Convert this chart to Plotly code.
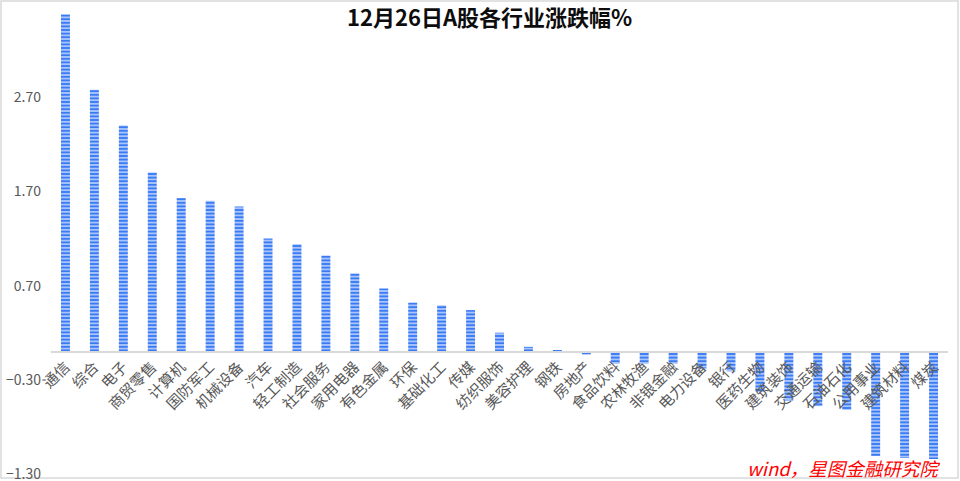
import plotly.graph_objects as go

categories = ["通信", "综合", "电子", "商贸零售", "计算机", "国防军工", "机械设备", "汽车",
              "轻工制造", "社会服务", "家用电器", "有色金属", "环保", "基础化工", "传媒",
              "纺织服饰", "美容护理", "钢铁", "房地产", "食品饮料", "农林牧渔", "非银金融",
              "电力设备", "银行", "医药生物", "建筑装饰", "交通运输", "石油石化", "公用事业",
              "建筑材料", "煤炭"]
values = [3.58, 2.78, 2.40, 1.90, 1.63, 1.60, 1.54, 1.20,
          1.14, 1.02, 0.83, 0.67, 0.52, 0.49, 0.44,
          0.20, 0.05, 0.015, -0.03, -0.13, -0.13, -0.13,
          -0.18, -0.21, -0.43, -0.52, -0.58, -0.62, -1.11,
          -1.13, -1.14]
y_ticks = [-1.30, -0.30, 0.70, 1.70, 2.70]
y_range = [-1.30, 3.70]

W, H = 960, 481
ml, mr, mt, mb = 51, 12, 3, 7

fig = go.Figure()
fig.add_trace(go.Bar(
    x=categories, y=values, width=0.31,
    marker=dict(
        color="#3b7cf6",
        line=dict(width=0),
        pattern=dict(shape="-", size=3.6, solidity=0.66,
                     fgcolor="#3a7bf5", bgcolor="#dbe6fc", fillmode="replace"),
    ),
    hoverinfo="x+y",
))

zero_pos = (0 - y_range[0]) / (y_range[1] - y_range[0])

fig.update_layout(
    width=W, height=H,
    margin=dict(l=ml, r=mr, t=mt, b=mb, pad=0, autoexpand=False),
    paper_bgcolor="white", plot_bgcolor="white",
    showlegend=False, bargap=0.69,
    font=dict(family="Noto Sans CJK SC, Microsoft YaHei, sans-serif", color="#595959", size=14),
    title=dict(text="<b>12月26日A股各行业涨跌幅%</b>", x=0.51, xanchor="center",
               y=1 - 18 / H, yanchor="middle", yref="container",
               font=dict(size=22, color="#0d0d0d")),
    xaxis=dict(type="category", anchor="free", position=zero_pos, automargin=False,
               showline=True, linecolor="#d9d9d9", linewidth=1.5,
               showgrid=False, zeroline=False, ticks="", tickangle=-45,
               tickfont=dict(size=15, color="#595959")),
    yaxis=dict(range=y_range, tickvals=y_ticks, tickformat=".2f", automargin=False,
               showgrid=False, zeroline=False, showline=False, ticks="",
               ticklabelstandoff=9, ticklabeloverflow="allow",
               tickfont=dict(size=14, color="#595959")),
    annotations=[dict(text="<i>wind，星图金融研究院</i>", xref="paper", yref="paper",
                      x=1 - 6 / (W - ml - mr), xanchor="right",
                      y=(H - mb - 468) / (H - mt - mb), yanchor="middle",
                      showarrow=False, font=dict(size=18.5, color="#ff0000"))],
    shapes=[dict(type="rect", xref="paper", yref="paper",
                 x0=-(ml - 1) / (W - ml - mr), x1=1 + (mr - 2) / (W - ml - mr),
                 y0=-(mb - 3) / (H - mt - mb), y1=1 + (mt - 1) / (H - mt - mb),
                 line=dict(color="#d9d9d9", width=1.5), layer="below")],
)

fig.write_html("out.html", config={"displayModeBar": False},
               post_script="document.body.style.margin='0';")
